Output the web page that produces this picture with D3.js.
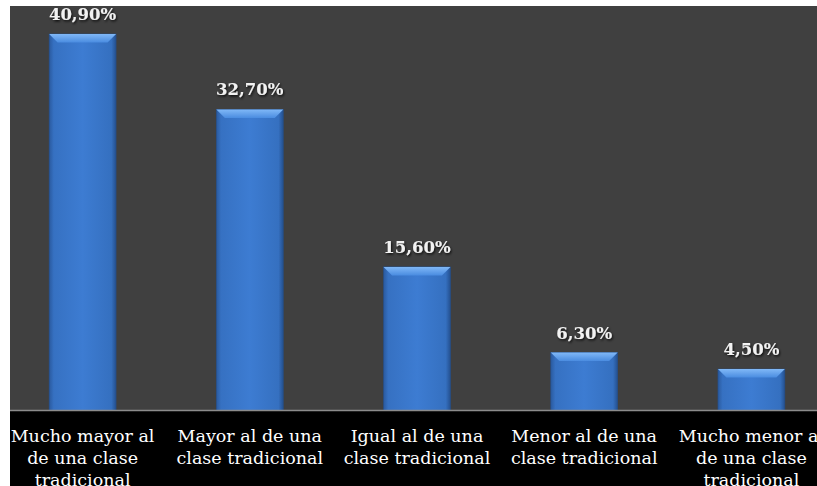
<!DOCTYPE html>
<html>
<head>
<meta charset="utf-8">
<script src="https://cdn.jsdelivr.net/npm/d3@7"></script>
<style>
  html, body { margin: 0; padding: 0; background: #ffffff; overflow: hidden; }
  svg { display: block; }
</style>
</head>
<body>
<svg id="chart" width="817" height="486"></svg>
<script>
// Percentages of respondents per answer
const categories = [
  "Mucho mayor al\nde una clase\ntradicional",
  "Mayor al de una\nclase tradicional",
  "Igual al de una\nclase tradicional",
  "Menor al de una\nclase tradicional",
  "Mucho menor al\nde una clase\ntradicional"
];
const values = [40.9, 32.7, 15.6, 6.3, 4.5];
const valueLabels = ["40,90%", "32,70%", "15,60%", "6,30%", "4,50%"];

const W = 817, H = 486;
const plot = { left: 10, top: 6, baseline: 410.5 };

const svg = d3.select("#chart");
const defs = svg.append("defs");

// Horizontal shading across each bar body
const body = defs.append("linearGradient").attr("id", "barBody")
  .attr("x1", "0").attr("x2", "1").attr("y1", "0").attr("y2", "0");
body.append("stop").attr("offset", "0").attr("stop-color", "#2a5a9f");
body.append("stop").attr("offset", "0.07").attr("stop-color", "#3671c2");
body.append("stop").attr("offset", "0.5").attr("stop-color", "#3d7cd2");
body.append("stop").attr("offset", "0.93").attr("stop-color", "#3570c0");
body.append("stop").attr("offset", "1").attr("stop-color", "#24508f");

// Bevelled top face
const bevel = defs.append("linearGradient").attr("id", "barBevel")
  .attr("x1", "0").attr("x2", "0").attr("y1", "0").attr("y2", "1");
bevel.append("stop").attr("offset", "0").attr("stop-color", "#80b8f7");
bevel.append("stop").attr("offset", "1").attr("stop-color", "#4a8ce0");

// Soft shadow under the value labels
const shadow = defs.append("filter").attr("id", "txtShadow")
  .attr("x", "-20%").attr("y", "-40%").attr("width", "140%").attr("height", "180%");
shadow.append("feDropShadow").attr("dx", 1).attr("dy", 1.5)
  .attr("stdDeviation", 1).attr("flood-color", "#000").attr("flood-opacity", 0.8);

// Plot background and category band
svg.append("rect").attr("x", plot.left).attr("y", plot.top)
  .attr("width", W - plot.left).attr("height", plot.baseline - plot.top)
  .attr("fill", "#404040");
svg.append("rect").attr("x", plot.left).attr("y", plot.baseline)
  .attr("width", W - plot.left).attr("height", H - plot.baseline)
  .attr("fill", "#000000");

const x = d3.scaleBand()
  .domain(categories)
  .range([-1, 835])
  .paddingInner(0.6)
  .paddingOuter(0.3);

const y = d3.scaleLinear()
  .domain([0, 45])
  .range([plot.baseline, plot.baseline - 45 * 9.205]);

const data = categories.map((c, i) => ({ c, v: values[i], label: valueLabels[i] }));

const bars = svg.append("g").selectAll("g").data(data).join("g");

bars.append("rect")
  .attr("x", d => x(d.c))
  .attr("y", d => y(d.v))
  .attr("width", x.bandwidth())
  .attr("height", d => y(0) - y(d.v))
  .attr("fill", "url(#barBody)")
  .attr("stroke", "#24508f")
  .attr("stroke-width", 0.6);

const bv = 8.5;
bars.append("path")
  .attr("d", d => {
    const x0 = x(d.c), x1 = x0 + x.bandwidth(), t = y(d.v);
    return `M${x0},${t}L${x1},${t}L${x1 - bv},${t + bv}L${x0 + bv},${t + bv}Z`;
  })
  .attr("fill", "url(#barBevel)");

// Axis line
svg.append("line")
  .attr("x1", plot.left).attr("x2", W)
  .attr("y1", plot.baseline).attr("y2", plot.baseline)
  .attr("stroke", "#8c8c8c").attr("stroke-width", 1.5);

// Value labels
bars.append("text")
  .attr("x", d => x(d.c) + x.bandwidth() / 2)
  .attr("y", d => y(d.v) - 14)
  .attr("text-anchor", "middle")
  .attr("font-family", "'DejaVu Serif', serif")
  .attr("font-size", 16.5)
  .attr("font-weight", "bold")
  .attr("fill", "#f2f2f2")
  .attr("filter", "url(#txtShadow)")
  .text(d => d.label);

// Category labels, one tspan per line
const cat = svg.append("g").selectAll("text").data(data).join("text")
  .attr("x", d => x(d.c) + x.bandwidth() / 2)
  .attr("y", 442)
  .attr("text-anchor", "middle")
  .attr("font-family", "'DejaVu Serif', serif")
  .attr("font-size", 17.5)
  .attr("fill", "#ffffff");
cat.selectAll("tspan").data(d => d.c.split("\n").map(s => ({ s, cx: x(d.c) + x.bandwidth() / 2 })))
  .join("tspan")
  .attr("x", d => d.cx)
  .attr("dy", (d, i) => i === 0 ? 0 : 22)
  .text(d => d.s);
</script>
</body>
</html>
